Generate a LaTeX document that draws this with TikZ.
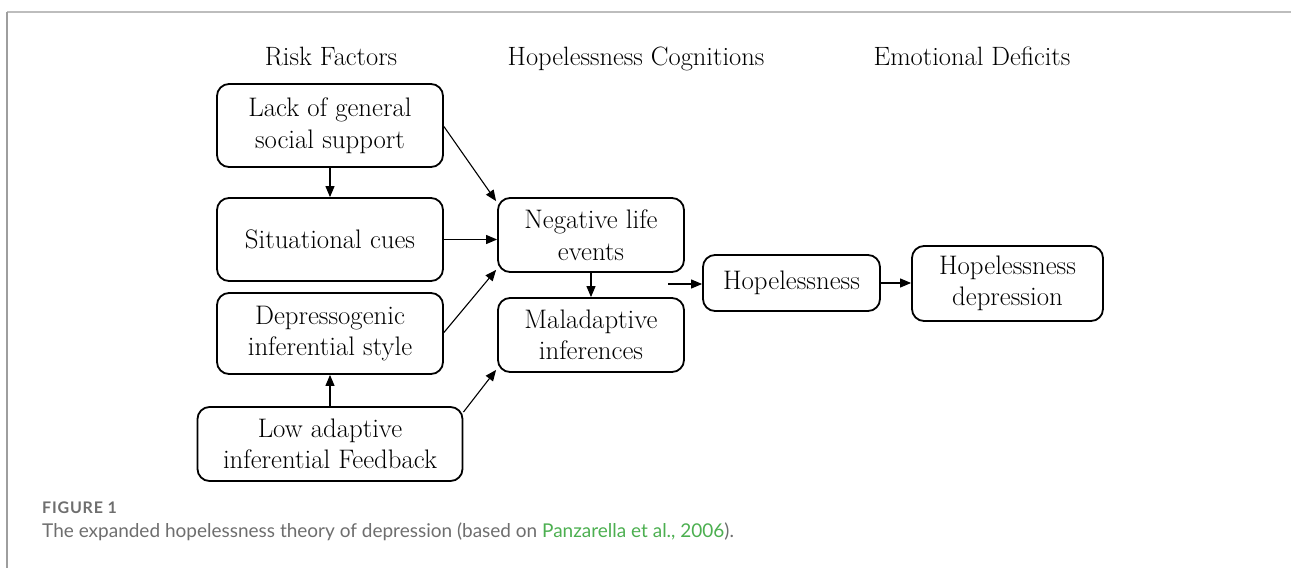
\documentclass[tikz,border=0pt]{standalone}
\usepackage{fontspec}
\newfontfamily\capfont{Lato}
\usetikzlibrary{arrows.meta}
\definecolor{framegray}{HTML}{BDBDBD}
\definecolor{frameleft}{HTML}{9E9E9E}
\definecolor{capgray}{HTML}{6E6E6E}
\definecolor{linkgreen}{HTML}{4CAF50}
\begin{document}
\begin{tikzpicture}[x=1pt,y=-1pt,
  box/.style={draw,line width=1.8pt,rounded corners=12pt,align=center,inner sep=0pt,
    font=\fontsize{26.8}{31.5}\selectfont},
  head/.style={anchor=base,inner sep=0pt,font=\fontsize{26.5}{31}\selectfont},
  arr/.style={line width=1.1pt,-{Triangle[length=11pt,width=9pt]}}]
\useasboundingbox (0,0) rectangle (1291,568);
\draw[framegray,line width=2pt] (7,12) -- (1291,12);
\draw[frameleft,line width=1.2pt] (7,12) -- (7,568);

\node[head] (rf) at (331,65) {Risk Factors};
\node[head] (hc) at (636,65) {Hopelessness Cognitions};
\node[head] (ed) at (972,65) {Emotional Deficits};

\node[box,minimum width=226pt,minimum height=83pt] (lack) at (330,125.5) {Lack of general\\social support};
\node[box,minimum width=226pt,minimum height=83pt] (sit) at (330,239.5) {Situational cues};
\node[box,minimum width=226pt,minimum height=81pt] (dep) at (330,333.5) {Depressogenic\\inferential style};
\node[box,minimum width=265pt,minimum height=74pt] (low) at (330,444) {Low adaptive\\inferential Feedback};
\node[box,minimum width=186pt,minimum height=74pt] (neg) at (591,235) {Negative life\\events};
\node[box,minimum width=186pt,minimum height=74pt] (mal) at (591,335) {Maladaptive\\inferences};
\node[box,minimum width=177pt,minimum height=56pt] (hop) at (791.5,283) {Hopelessness};
\node[box,minimum width=191pt,minimum height=75pt] (hd) at (1007.5,283.5) {Hopelessness\\depression};

\draw[arr] (lack.south) -- (sit.north);
\draw[arr] (low.north) -- (dep.south);
\draw[arr] (sit.east) -- (sit.east -| neg.west);
\draw[arr] ([yshift=-1pt]lack.east) -- ([xshift=-1pt,yshift=-4pt]neg.north west);
\draw[arr] ([yshift=1pt]dep.east) -- ([xshift=-1pt,yshift=3pt]neg.south west);
\draw[arr] ([yshift=-6pt]low.north east) -- ([xshift=-1pt,yshift=3pt]mal.south west);
\draw[arr] (neg.south) -- (mal.north);
\coordinate (start) at (668,284);
\draw[arr] (start) -- (start -| hop.west);
\draw[arr] (hop.east) -- (hop.east -| hd.west);

\node[anchor=base west,inner sep=0pt,text=capgray,font=\capfont\bfseries\fontsize{16}{18}\selectfont\addfontfeature{LetterSpace=5}] (fig) at (42,513) {FIGURE 1};
\node[anchor=base west,inner sep=0pt,text=capgray,font=\capfont\fontsize{19}{22}\selectfont] (cap) at (42,537) {The expanded hopelessness theory of depression (based on \textcolor{linkgreen}{Panzarella et al., 2006}).};
\end{tikzpicture}
\end{document}
